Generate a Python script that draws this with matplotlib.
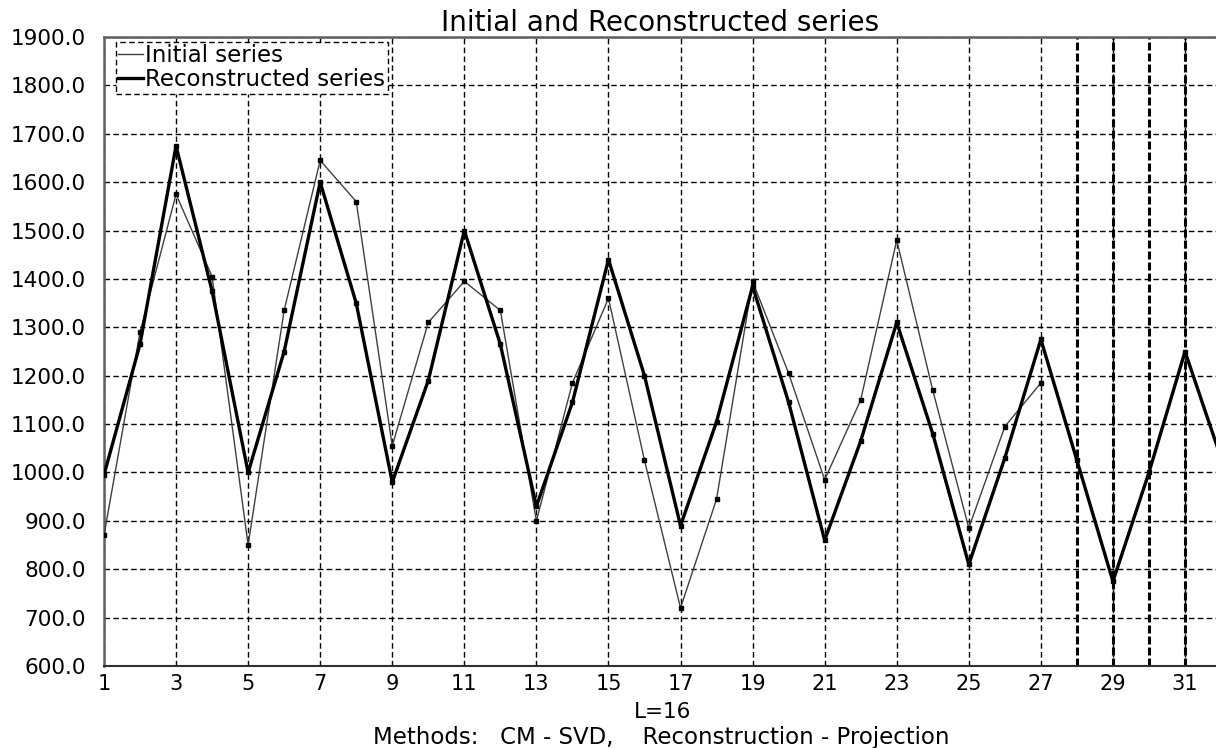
import matplotlib
matplotlib.use("Agg")
import matplotlib.pyplot as plt
from matplotlib.lines import Line2D

x_initial = list(range(1, 28))
initial = [870, 1290, 1575, 1405, 850, 1335, 1645, 1560, 1055, 1310,
           1395, 1335, 900, 1185, 1360, 1025, 720, 945, 1395, 1205,
           985, 1150, 1480, 1170, 885, 1095, 1185]

x_recon = list(range(1, 33))
reconstructed = [995, 1265, 1675, 1375, 1000, 1250, 1600, 1350, 980, 1190,
                 1500, 1265, 930, 1145, 1440, 1200, 890, 1105, 1385, 1145,
                 860, 1065, 1310, 1080, 810, 1030, 1275, 1025, 775, 1000,
                 1250, 1030]

forecast_marks = [28, 29, 30, 31]
x_ticks = list(range(1, 32, 2))
y_ticks = list(range(600, 2000, 100))

plt.rcParams['font.family'] = ['DejaVu Sans']

fig = plt.figure(figsize=(12.16, 7.48), dpi=100)
ax = fig.add_axes([0.0855, 0.1096, 0.9145, 0.8409])

ax.set_xlim(1, 31.86)
ax.set_ylim(600, 1900)
ax.set_xticks(x_ticks)
ax.set_yticks(y_ticks)
ax.set_xticklabels([str(v) for v in x_ticks])
ax.set_yticklabels([f"{v:.1f}" for v in y_ticks])
ax.tick_params(axis='x', length=0, labelsize=15, pad=6)
ax.tick_params(axis='y', length=0, labelsize=15.5, pad=13)

ax.grid(True, color='black', linestyle=(0, (4, 2.4)), linewidth=1.0)
ax.set_axisbelow(True)

for xv in forecast_marks:
    ax.axvline(xv, color='black', linestyle=(0, (2.6, 1.0)), linewidth=2.2, zorder=1)

ax.plot(x_initial, initial, color='#404040', linewidth=1.0, marker='s',
        markersize=3.5, markerfacecolor='black', markeredgecolor='black', zorder=3)
ax.plot(x_recon, reconstructed, color='black', linewidth=2.4, marker='s',
        markersize=3.5, markerfacecolor='black', markeredgecolor='black', zorder=4)

for side in ['left', 'top']:
    ax.spines[side].set_color('#606060')
    ax.spines[side].set_linewidth(1.8)
ax.spines['bottom'].set_color('#303030')
ax.spines['bottom'].set_linewidth(1.5)
ax.spines['right'].set_visible(False)

ax.set_title("Initial and Reconstructed series", fontsize=20, pad=2)

handles = [Line2D([], [], color='#404040', linewidth=1.0),
           Line2D([], [], color='black', linewidth=2.4)]
leg = ax.legend(handles, ["Initial series", "Reconstructed series"],
                loc='upper left', bbox_to_anchor=(0.0105, 0.992),
                fontsize=16.5, handlelength=1.1, handletextpad=0.1,
                borderpad=0.1, labelspacing=0.05, borderaxespad=0,
                fancybox=False, framealpha=1, edgecolor='black')
leg.get_frame().set_linestyle((0, (4, 2.4)))
leg.get_frame().set_linewidth(1.0)

fig.text(0.5445, 0.048, "L=16", ha='center', va='center', fontsize=15.5)
fig.text(0.5435, 0.014, "Methods:   CM - SVD,    Reconstruction - Projection",
         ha='center', va='center', fontsize=16.5)

fig.savefig("out.png", dpi=100)
